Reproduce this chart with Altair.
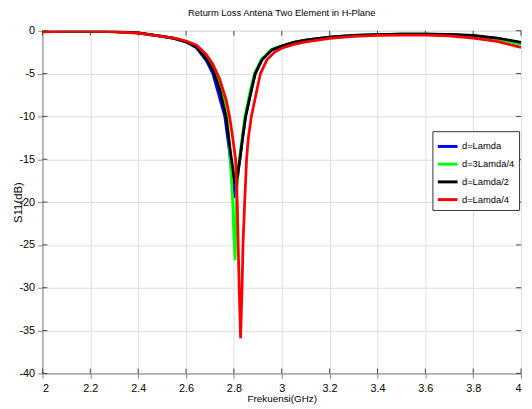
import altair as alt
import pandas as pd

# ---------------- data ----------------
x_ticks = [2.0, 2.2, 2.4, 2.6, 2.8, 3.0, 3.2, 3.4, 3.6, 3.8, 4.0]
y_ticks = [0, -5, -10, -15, -20, -25, -30, -35, -40]

series_names = ["d=Lamda", "d=3Lamda/4", "d=Lamda/2", "d=Lamda/4"]
series_colors = ["#0000ff", "#00ff00", "#000000", "#ff0000"]

lamda_f = [2.0, 2.1, 2.2, 2.3, 2.4, 2.5, 2.55, 2.6,
           2.644, 2.685, 2.712, 2.73, 2.762, 2.78, 2.79, 2.806,
           2.82, 2.836, 2.849, 2.874, 2.889, 2.917, 2.96, 3.0,
           3.05, 3.1, 3.2, 3.3, 3.4, 3.5, 3.6, 3.7, 3.8, 3.9, 4.0]
lamda_db = [-0.1, -0.07, -0.05, -0.1, -0.25, -0.65, -0.9, -1.3,
            -2.0, -3.5, -5.0, -6.8, -10.0, -13.8, -16.5, -19.5,
            -16.0, -12.6, -10.0, -6.8, -5.0, -3.4, -2.2, -1.8,
            -1.35, -1.1, -0.75, -0.55, -0.45, -0.4, -0.4, -0.45, -0.6, -0.9, -1.45]

l34_f = [2.0, 2.1, 2.2, 2.3, 2.4, 2.5, 2.55, 2.6,
         2.644, 2.685, 2.712, 2.747, 2.772, 2.785, 2.795, 2.80, 2.805,
         2.81, 2.818, 2.83, 2.846, 2.87, 2.886, 2.914, 2.955, 3.0,
         3.05, 3.1, 3.2, 3.3, 3.4, 3.5, 3.6, 3.7, 3.8, 3.9, 4.0]
l34_db = [-0.1, -0.07, -0.05, -0.1, -0.25, -0.65, -0.9, -1.3,
          -1.8, -3.0, -4.3, -6.8, -10.0, -15.0, -20.0, -24.0, -26.8,
          -20.0, -16.0, -13.5, -10.0, -6.8, -5.0, -3.4, -2.2, -1.75,
          -1.35, -1.1, -0.75, -0.55, -0.45, -0.4, -0.4, -0.45, -0.6, -0.95, -1.6]

l2_f = [2.0, 2.1, 2.2, 2.3, 2.4, 2.5, 2.55, 2.6,
        2.644, 2.685, 2.712, 2.74, 2.767, 2.785, 2.80, 2.809,
        2.825, 2.836, 2.849, 2.874, 2.889, 2.917, 2.96, 3.0,
        3.05, 3.1, 3.2, 3.3, 3.4, 3.5, 3.6, 3.7, 3.8, 3.9, 4.0]
l2_db = [-0.1, -0.07, -0.05, -0.1, -0.25, -0.65, -0.9, -1.3,
         -1.9, -3.3, -4.6, -6.8, -10.0, -14.0, -17.0, -18.0,
         -15.0, -12.6, -10.0, -6.8, -5.0, -3.4, -2.2, -1.8,
         -1.35, -1.1, -0.75, -0.55, -0.45, -0.4, -0.4, -0.42, -0.55, -0.85, -1.35]

l4_f = [2.0, 2.1, 2.2, 2.3, 2.4, 2.5, 2.55, 2.6,
        2.644, 2.685, 2.712, 2.74, 2.767, 2.782, 2.795, 2.807, 2.814, 2.818, 2.822, 2.828,
        2.834, 2.838, 2.845, 2.853, 2.86, 2.873, 2.897, 2.911, 2.938, 2.97, 3.0,
        3.05, 3.1, 3.2, 3.3, 3.4, 3.5, 3.6, 3.7, 3.8, 3.9, 4.0]
l4_db = [-0.12, -0.08, -0.05, -0.12, -0.28, -0.65, -0.85, -1.2,
         -1.7, -2.8, -3.9, -5.6, -8.0, -10.0, -12.5, -15.0, -20.0, -25.0, -30.0, -35.9,
         -30.0, -25.0, -20.0, -15.0, -12.6, -10.0, -6.8, -5.0, -3.4, -2.5, -2.05,
         -1.6, -1.3, -0.9, -0.65, -0.55, -0.5, -0.52, -0.6, -0.85, -1.25, -1.95]

series_f = [lamda_f, l34_f, l2_f, l4_f]
series_db = [lamda_db, l34_db, l2_db, l4_db]

rows = []
for name, fs, dbs in zip(series_names, series_f, series_db):
    for f, d in zip(fs, dbs):
        rows.append({"series": name, "f": f, "db": d})
df = pd.DataFrame(rows)

W, H = 486, 348
FONT = "Liberation Sans, Arial, Helvetica"

x_enc = alt.X("f:Q", scale=alt.Scale(domain=[2, 4], nice=False, zero=False),
              axis=alt.Axis(values=x_ticks, format=".1~f", title="Frekuensi(GHz)",
                            labelFont=FONT, labelFontSize=11, labelPadding=4,
                            titleFont=FONT, titleFontSize=10, titlePadding=1,
                            titleFontWeight="normal"))
y_enc = alt.Y("db:Q", scale=alt.Scale(domain=[-40, 0], nice=False, zero=False),
              axis=alt.Axis(values=y_ticks, labelExpr="'' + datum.value", title="S11(dB)",
                            labelFont=FONT, labelFontSize=11, labelPadding=3,
                            titleFont=FONT, titleFontSize=11.5, titleX=-24,
                            titleBaseline="middle", titleFontWeight="normal"))
c_enc = alt.Color("series:N",
                  scale=alt.Scale(domain=series_names, range=series_colors),
                  sort=series_names,
                  legend=alt.Legend(title=None, orient="none", legendX=396, legendY=102,
                                    symbolType="stroke", symbolSize=400, symbolStrokeWidth=3,
                                    labelFont=FONT, labelFontSize=9.5, labelOffset=3,
                                    padding=4, rowPadding=0,
                                    strokeColor="#333333", fillColor="white"))

layers = []
for name in series_names:
    layers.append(
        alt.Chart(df).transform_filter(alt.datum.series == name)
        .mark_line(strokeWidth=2.8, clip=True)
        .encode(x=x_enc, y=y_enc, color=c_enc, order="f:Q")
    )

xt = pd.DataFrame({"f": x_ticks})
yt = pd.DataFrame({"db": y_ticks})
tick_color = "#444444"
ticks_bottom = alt.Chart(xt).mark_rule(color=tick_color).encode(
    x="f:Q", y=alt.value(H - 5), y2=alt.value(H))
ticks_top = alt.Chart(xt).mark_rule(color=tick_color).encode(
    x="f:Q", y=alt.value(0), y2=alt.value(5))
ticks_left = alt.Chart(yt).mark_rule(color=tick_color).encode(
    y="db:Q", x=alt.value(0), x2=alt.value(5))
ticks_right = alt.Chart(yt).mark_rule(color=tick_color).encode(
    y="db:Q", x=alt.value(W - 5), x2=alt.value(W))

chart = alt.layer(ticks_bottom, ticks_top, ticks_left, ticks_right, *layers).properties(
    width=W, height=H,
    title=alt.TitleParams("Returm Loss Antena Two Element in H-Plane",
                          font=FONT, fontSize=9.5, fontWeight="normal",
                          color="black", anchor="middle", offset=7),
    autosize=alt.AutoSizeParams(type="none"),
    padding={"left": 35, "top": 20, "right": 3, "bottom": 30},
).configure_view(stroke="#555555", strokeWidth=1).configure_axis(
    domain=False, ticks=False, grid=True, gridDash=[1, 2], gridColor="#999999",
    gridOpacity=1, labelColor="black", titleColor="black"
).configure(background="white")

chart.save("out.html", embed_options={"renderer": "svg", "actions": False})
